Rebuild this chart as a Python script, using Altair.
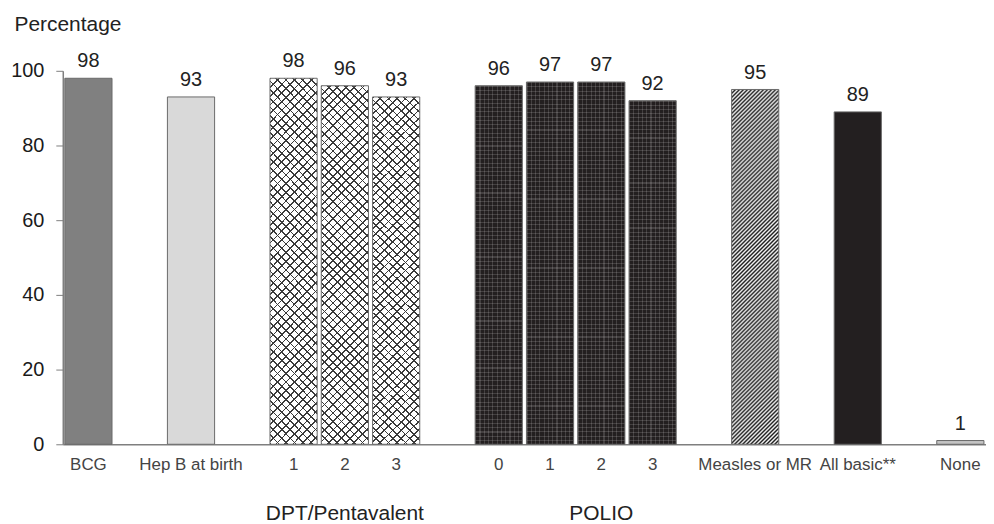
import altair as alt
import pandas as pd

# ---- data ----
groups = ["BCG", "Hep B at birth", "DPT/Pentavalent", "POLIO", "Measles or MR", "All basic**", "None"]
group_members = [["BCG"], ["Hep B at birth"], ["1", "2", "3"], ["0", "1", "2", "3"],
                 ["Measles or MR"], ["All basic**"], ["None"]]
group_values = [[98], [93], [98, 96, 93], [96, 97, 97, 92], [95], [89], [1]]
group_style = ["dark", "light", "crosshatch", "dots", "diagonal", "black", "none"]
group_has_caption = [False, False, True, True, False, False, False]

# ---- build table (keys unique, spacer slots between groups) ----
rows, domain, captions = [], [], []
for gi, g in enumerate(groups):
    if gi > 0:
        domain.append(f"gap{gi}|")
    keys = []
    for lab, val in zip(group_members[gi], group_values[gi]):
        k = f"{g}#{lab}|{lab}"
        domain.append(k)
        keys.append(k)
        rows.append({"key": k, "value": val, "style": group_style[gi]})
    if group_has_caption[gi]:
        captions.append({"key": keys[len(keys) // 2], "text": g})
df = pd.DataFrame(rows)
cap_df = pd.DataFrame(captions)

W, H = 927, 375
FONT = "Liberation Sans"


def stripes(n, frac, line, bg, x1, y1, x2, y2):
    stops = []
    for i in range(n):
        a = round(i / n, 5)
        b = round((i + frac) / n, 5)
        c = round((i + 1) / n, 5)
        stops += [{"offset": a, "color": line}, {"offset": b, "color": line},
                  {"offset": b, "color": bg}, {"offset": c, "color": bg}]
    return {"gradient": "linear", "x1": x1, "y1": y1, "x2": x2, "y2": y2, "stops": stops}


def soft_stripes(n, line, bg, x1, y1, x2, y2):
    stops = []
    for i in range(n):
        stops += [{"offset": round(i / n, 5), "color": line},
                  {"offset": round((i + 0.5) / n, 5), "color": bg}]
    stops.append({"offset": 1, "color": line})
    return {"gradient": "linear", "x1": x1, "y1": y1, "x2": x2, "y2": y2, "stops": stops}


def diag_vec(ratio):
    b = (1 + ratio) / (1 + ratio * ratio)
    return ratio * b, b


CLEAR = "rgba(0,0,0,0)"
bw = W / 18 * 0.92
a_d, b_d = diag_vec(bw / (0.96 * H))
a_m, b_m = diag_vec(bw / (0.95 * H))

xscale = alt.Scale(domain=domain, paddingInner=0.08, paddingOuter=0.04)
yscale = alt.Scale(domain=[0, 100], nice=False)

x_axis = alt.Axis(title=None, labelExpr="split(datum.value, '|')[1]", labelAngle=0,
                  ticks=False, tickSize=0, labelPadding=12, labelFontSize=17,
                  labelColor="#444444", labelFont=FONT, labelOverlap=False,
                  domainColor="#7f7f7f", domainWidth=1.5)
y_axis = alt.Axis(values=[0, 20, 40, 60, 80, 100], title="Percentage", titleAngle=0,
                  titleAlign="left", titleBaseline="alphabetic", titleX=-49, titleY=-40,
                  titleFontSize=21, titleFontWeight="normal", titleColor="#222222",
                  titleFont=FONT, labelFontSize=20, labelColor="#1a1a1a", labelFont=FONT,
                  labelPadding=12, tickSize=7, tickColor="#7f7f7f", domainColor="#7f7f7f",
                  domainWidth=1.5, grid=False)

X = alt.X("key:N", scale=xscale, axis=x_axis)
Y = alt.Y("value:Q", scale=yscale, axis=y_axis)

base = alt.Chart(df)

style_domain = ["dark", "light", "crosshatch", "dots", "diagonal", "black", "none"]
style_fill = ["#808080", "#d9d9d9", "#ffffff", "#231f20", "#ffffff", "#231f20", "#c4c4c4"]

bars = base.mark_bar(strokeWidth=0).encode(
    x=X, y=Y,
    fill=alt.Fill("style:N", scale=alt.Scale(domain=style_domain, range=style_fill), legend=None),
)

cross1 = base.transform_filter(alt.datum.style == "crosshatch").mark_bar(
    fill=stripes(48, 0.2, "#3a3a3a", CLEAR, 0, 0, a_d, b_d)
).encode(x=X, y=Y)
cross2 = base.transform_filter(alt.datum.style == "crosshatch").mark_bar(
    fill=stripes(48, 0.2, "#3a3a3a", CLEAR, 0, 1, a_d, 1 - b_d)
).encode(x=X, y=Y)

diag = base.transform_filter(alt.datum.style == "diagonal").mark_bar(
    fill=soft_stripes(100, "#1e1e1e", "#f4f4f4", 0, 0, a_m, b_m)
).encode(x=X, y=Y)

dots_h = base.transform_filter(alt.datum.style == "dots").mark_bar(
    fill=stripes(84, 0.25, "rgba(255,255,255,0.15)", CLEAR, 0, 0, 0, 1)
).encode(x=X, y=Y)
dots_v = base.transform_filter(alt.datum.style == "dots").mark_bar(
    fill=stripes(11, 0.25, "rgba(255,255,255,0.15)", CLEAR, 0, 0, 1, 0)
).encode(x=X, y=Y)

outline = base.mark_bar(fill=CLEAR, stroke="#6a6a6a", strokeWidth=1).encode(x=X, y=Y)

values = base.mark_text(font=FONT, fontSize=20, color="#222222", baseline="alphabetic",
                        dy=-11).encode(x=X, y=Y, text=alt.Text("value:Q"))

caps = alt.Chart(cap_df).mark_text(font=FONT, fontSize=21, color="#222222",
                                   baseline="alphabetic").encode(
    x=X,
    y=alt.value(H + 76),
    text="text:N",
)

chart = alt.layer(bars, cross1, cross2, diag, dots_h, dots_v, outline, values, caps).properties(
    width=W, height=H,
    padding={"left": 2, "top": 5, "right": 0, "bottom": 0},
).configure_view(stroke="transparent")

chart.save("out.html", embed_options={"renderer": "svg", "actions": False})
